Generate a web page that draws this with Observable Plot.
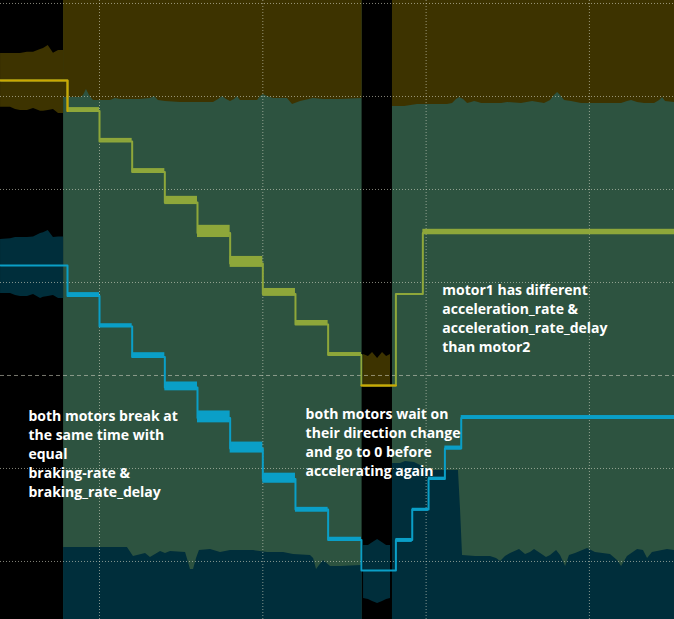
<!DOCTYPE html>
<html>
<head>
<meta charset="utf-8">
<script src="https://cdn.jsdelivr.net/npm/d3@7"></script>
<script src="https://cdn.jsdelivr.net/npm/@observablehq/plot@0.6"></script>
<style>
  html, body { margin: 0; padding: 0; background: #000; }
  #chart svg { display: block; }
</style>
</head>
<body>
<div id="chart"></div>
<script>
// time axis in ms (grid every 100 ms), vertical axis in scope divisions
const T_START = 39.37, T_END = 452.1;
const Y_MIN = -2.624, Y_MAX = 4.032;

// channel display settings (zero position and gain, divisions per speed unit)
const CH1 = {offset: -0.1075, gain: 0.0328};
const CH2 = {offset: -2.097, gain: 0.0328};

// motor1 (yellow) speed steps
const stepTimes1 = [39.4, 80.4, 100, 120, 140, 160, 180, 200, 220, 240, 260.4, 281.5, 298];
const speeds1 = [100, 90, 80, 70, 60, 50, 40, 30, 20, 10, 0, 30, 50];
const jitterLo1 = [null, 89.8, 80.0, 69.8, 59.3, 48.5, 38.7, 29.2, 19.7, 9.8, null, null, 49.4];
const jitterHi1 = [null, 91.1, 81.0, 71.1, 62.0, 52.5, 42.3, 31.8, 21.3, 10.8, null, null, 51.2];

// motor2 (blue) speed steps
const stepTimes2 = [39.4, 80.4, 100, 120, 140, 160, 180, 200, 220, 240, 260.4, 281.5, 291.5, 301.5, 311.5, 321.5];
const speeds2 = [100, 90, 80, 70, 60, 50, 40, 30, 20, 10, 0, 10, 20, 30, 40, 50];
const jitterLo2 = [null, 89.8, 79.9, 69.7, 58.9, 48.4, 38.5, 28.6, 19.1, 9.9, null, 9.2, 19.4, 29.9, 39.5, 50.0];
const jitterHi2 = [null, 91.1, 80.9, 71.4, 61.8, 52.3, 42.1, 31.9, 20.7, 10.9, null, 10.5, 20.4, 30.6, 40.8, 50.8];

// envelope before braking (t, band edges in divisions)
const leftT   = [39.4, 45.5, 48.6, 51.6, 55.9, 59.6, 63.9, 65.7, 68.6, 71.8, 74.9, 78.0];
const env1Lo  = [2.885, 2.885, 2.860, 2.849, 2.849, 2.871, 2.842, 2.842, 2.850, 2.860, 2.817, 2.817];
const env1Hi  = [3.462, 3.462, 3.462, 3.462, 3.476, 3.476, 3.505, 3.516, 3.548, 3.466, 3.495, 3.495];
const env2Lo  = [0.882, 0.882, 0.860, 0.849, 0.849, 0.871, 0.828, 0.840, 0.850, 0.860, 0.828, 0.828];
const env2Hi  = [1.462, 1.470, 1.484, 1.484, 1.484, 1.490, 1.527, 1.535, 1.559, 1.484, 1.490, 1.490];

// spans where both envelopes overlap
const overlapSpans = [[78.0, 260.8], [279.4, 452.1]];

// upper edge of motor2 envelope (t, div)
const env2TopA = [[78.0,2.989],[88.4,2.989],[90.2,3.011],[92.0,3.075],[93.9,3.011],[96.3,2.957],[106.7,2.957],
  [109.8,2.978],[112.9,2.968],[125.1,2.968],[131.2,2.978],[133.7,3.000],[136.1,2.957],[140.4,2.946],[149.6,2.935],
  [169.8,2.935],[172.9,2.968],[175.3,3.000],[177.8,2.968],[180.2,2.946],[182.7,2.968],[184.5,3.000],[186.3,2.957],
  [196.8,2.957],[198.6,3.000],[200.4,3.022],[202.9,3.000],[206.6,2.978],[215.1,2.978],[218.2,2.914],[223.1,2.946],
  [231.1,2.978],[237.2,2.968],[247.6,2.968],[260.8,2.978]];
const env2TopB = [[279.4,2.892],[286.8,2.892],[294.7,2.914],[313.1,2.914],[316.2,2.925],[318.6,2.968],[320.5,2.989],
  [322.9,2.968],[325.4,2.925],[327.8,2.935],[329.7,2.946],[332.1,2.935],[334.0,2.925],[346.2,2.925],[349.9,2.935],
  [358.4,2.925],[365.2,2.946],[372.5,2.925],[376.2,2.957],[378.6,3.011],[380.5,3.043],[382.3,3.011],[384.8,2.957],
  [389.1,2.946],[395.2,2.925],[419.7,2.925],[423.3,2.946],[425.8,2.957],[429.5,2.935],[433.8,2.925],[439.9,2.925],
  [443.0,2.957],[444.8,2.989],[446.6,2.946],[452.1,2.935]];

// lower edge of motor1 envelope (t, div)
const env1BotA = [[78.0,-1.849],[117.1,-1.849],[120.8,-1.946],[128.2,-1.914],[131.2,-1.957],[137.4,-1.892],
  [140.4,-1.914],[143.5,-1.892],[152.7,-1.903],[154.5,-2.011],[155.7,-2.086],[157.6,-2.086],[159.4,-1.968],
  [161.2,-1.882],[168.0,-1.871],[174.1,-1.903],[180.2,-1.882],[194.3,-1.882],[202.9,-1.903],[212.7,-1.903],
  [218.8,-1.925],[229.2,-1.935],[231.1,-1.968],[232.9,-2.086],[234.7,-2.043],[237.2,-1.989],[241.5,-2.054],
  [247.6,-2.054],[260.8,-2.043]];
const env1BotB = [[279.4,-0.946],[284.3,-0.946],[287.4,-0.925],[292.9,-0.935],[296.6,-0.968],[300.9,-1.022],
  [319.8,-1.022],[321.1,-1.452],[322.3,-1.935],[330.3,-1.946],[339.4,-1.946],[343.1,-1.968],[345.6,-2.000],
  [348.6,-1.946],[351.7,-1.914],[357.2,-1.871],[360.9,-1.925],[363.9,-1.903],[366.4,-1.871],[370.1,-1.914],
  [373.7,-1.957],[376.2,-1.935],[379.9,-1.882],[382.3,-1.935],[385.4,-2.054],[387.8,-1.935],[391.5,-1.914],
  [398.9,-1.860],[403.7,-1.903],[412.9,-1.925],[417.2,-1.989],[419.7,-2.054],[423.3,-1.946],[429.5,-1.871],
  [433.1,-1.882],[435.6,-1.968],[438.6,-1.903],[447.8,-1.871],[452.1,-1.882]];

// envelopes while standing still (direction change)
const gapT    = [261.7, 264.7, 267.2, 270.3, 273.3, 275.8, 278.2];
const gap1Lo  = [-0.129, -0.129, -0.129, -0.129, -0.129, -0.129, -0.129];
const gap1Hi  = [0.226, 0.204, 0.247, 0.183, 0.247, 0.204, 0.226];
const gap2Lo  = [-2.398, -2.409, -2.430, -2.452, -2.430, -2.409, -2.398];
const gap2Hi  = [-1.828, -1.828, -1.800, -1.763, -1.800, -1.828, -1.828];

const gridT = [100, 200, 300, 400];
const gridY = [4, 3, 2, 1, -1, -2];

const noteT = [56.5, 226.2, 309.9];
const noteV = [-0.342, -0.318, 1.010];
const noteText = [
  "both motors break at\nthe same time with\nequal\nbraking-rate &\nbraking_rate_delay",
  "both motors wait on\ntheir direction change\nand go to 0 before\naccelerating again",
  "motor1 has different\nacceleration_rate &\nacceleration_rate_delay\nthan motor2"
];

const BROWN = "#3d3300", GREEN = "#2d5340", TEAL = "#002e3b";
const GOLD = "#cca800", OLIVE = "#8ea73a", BLUE = "#0a9fc7";
const GRID = "#d8d8c8";

const level = (ch, s) => ch.offset + ch.gain * s;

function stepSeries(times, speeds, ch) {
  const pts = times.map((t, i) => ({t, v: level(ch, speeds[i])}));
  pts.push({t: T_END, v: pts[pts.length - 1].v});
  return pts;
}
function jitterRects(times, lo, hi, ch) {
  const out = [];
  times.forEach((t, i) => {
    if (lo[i] == null) return;
    out.push({t1: t, t2: i + 1 < times.length ? times[i + 1] : T_END, v1: level(ch, lo[i]), v2: level(ch, hi[i])});
  });
  return out;
}
const zip = (ts, a, b) => ts.map((t, i) => ({t, lo: a[i], hi: b[i]}));

const line1 = stepSeries(stepTimes1, speeds1, CH1);
const line2 = stepSeries(stepTimes2, speeds2, CH2);
// parts of motor1 trace lying over black, drawn in the brighter gold
const zeroIdx = speeds1.indexOf(0);
const gold1 = [
  [{t: stepTimes1[0], v: level(CH1, speeds1[0])}, {t: stepTimes1[1], v: level(CH1, speeds1[0])}, {t: stepTimes1[1], v: level(CH1, speeds1[1])}],
  [{t: stepTimes1[zeroIdx], v: level(CH1, 0)}, {t: stepTimes1[zeroIdx + 1], v: level(CH1, 0)}]
];

const notes = noteText.map((s, i) => ({t: noteT[i], v: noteV[i], label: s}));

const chart = Plot.plot({
  width: 674,
  height: 619,
  margin: 0,
  x: {domain: [T_START, T_END], axis: null},
  y: {domain: [Y_MIN, Y_MAX], axis: null},
  style: {background: "#000", overflow: "hidden"},
  marks: [
    Plot.rect(overlapSpans, {x1: d => d[0], x2: d => d[1], y1: Y_MIN, y2: Y_MAX, fill: GREEN}),
    Plot.areaY(env2TopA, {x: d => d[0], y1: d => d[1], y2: Y_MAX, fill: BROWN}),
    Plot.areaY(env2TopB, {x: d => d[0], y1: d => d[1], y2: Y_MAX, fill: BROWN}),
    Plot.areaY(env1BotA, {x: d => d[0], y1: Y_MIN, y2: d => d[1], fill: TEAL}),
    Plot.areaY(env1BotB, {x: d => d[0], y1: Y_MIN, y2: d => d[1], fill: TEAL}),
    Plot.areaY(zip(leftT, env1Lo, env1Hi), {x: "t", y1: "lo", y2: "hi", fill: BROWN}),
    Plot.areaY(zip(leftT, env2Lo, env2Hi), {x: "t", y1: "lo", y2: "hi", fill: TEAL}),
    Plot.areaY(zip(gapT, gap1Lo, gap1Hi), {x: "t", y1: "lo", y2: "hi", fill: BROWN}),
    Plot.areaY(zip(gapT, gap2Lo, gap2Hi), {x: "t", y1: "lo", y2: "hi", fill: TEAL}),
    Plot.ruleX(gridT, {stroke: GRID, strokeOpacity: 0.6, strokeDasharray: "1,2"}),
    Plot.ruleY(gridY, {stroke: GRID, strokeOpacity: 0.6, strokeDasharray: "1,2"}),
    Plot.ruleY([0], {stroke: GRID, strokeOpacity: 0.55, strokeDasharray: "4,3"}),
    Plot.rect(jitterRects(stepTimes1, jitterLo1, jitterHi1, CH1), {x1: "t1", x2: "t2", y1: "v1", y2: "v2", fill: OLIVE}),
    Plot.rect(jitterRects(stepTimes2, jitterLo2, jitterHi2, CH2), {x1: "t1", x2: "t2", y1: "v1", y2: "v2", fill: BLUE}),
    Plot.line(line1, {x: "t", y: "v", curve: "step-after", stroke: OLIVE, strokeWidth: 2}),
    ...gold1.map(seg => Plot.line(seg, {x: "t", y: "v", stroke: GOLD, strokeWidth: 2})),
    Plot.line(line2, {x: "t", y: "v", curve: "step-after", stroke: BLUE, strokeWidth: 2}),
    Plot.text(notes, {
      x: "t", y: "v", text: "label",
      textAnchor: "start", lineAnchor: "top", lineHeight: 1.36,
      fill: "white", fontSize: 14, fontWeight: "bold", fontFamily: "Open Sans"
    })
  ]
});

d3.select('#chart').append(() => chart);
</script>
</body>
</html>
